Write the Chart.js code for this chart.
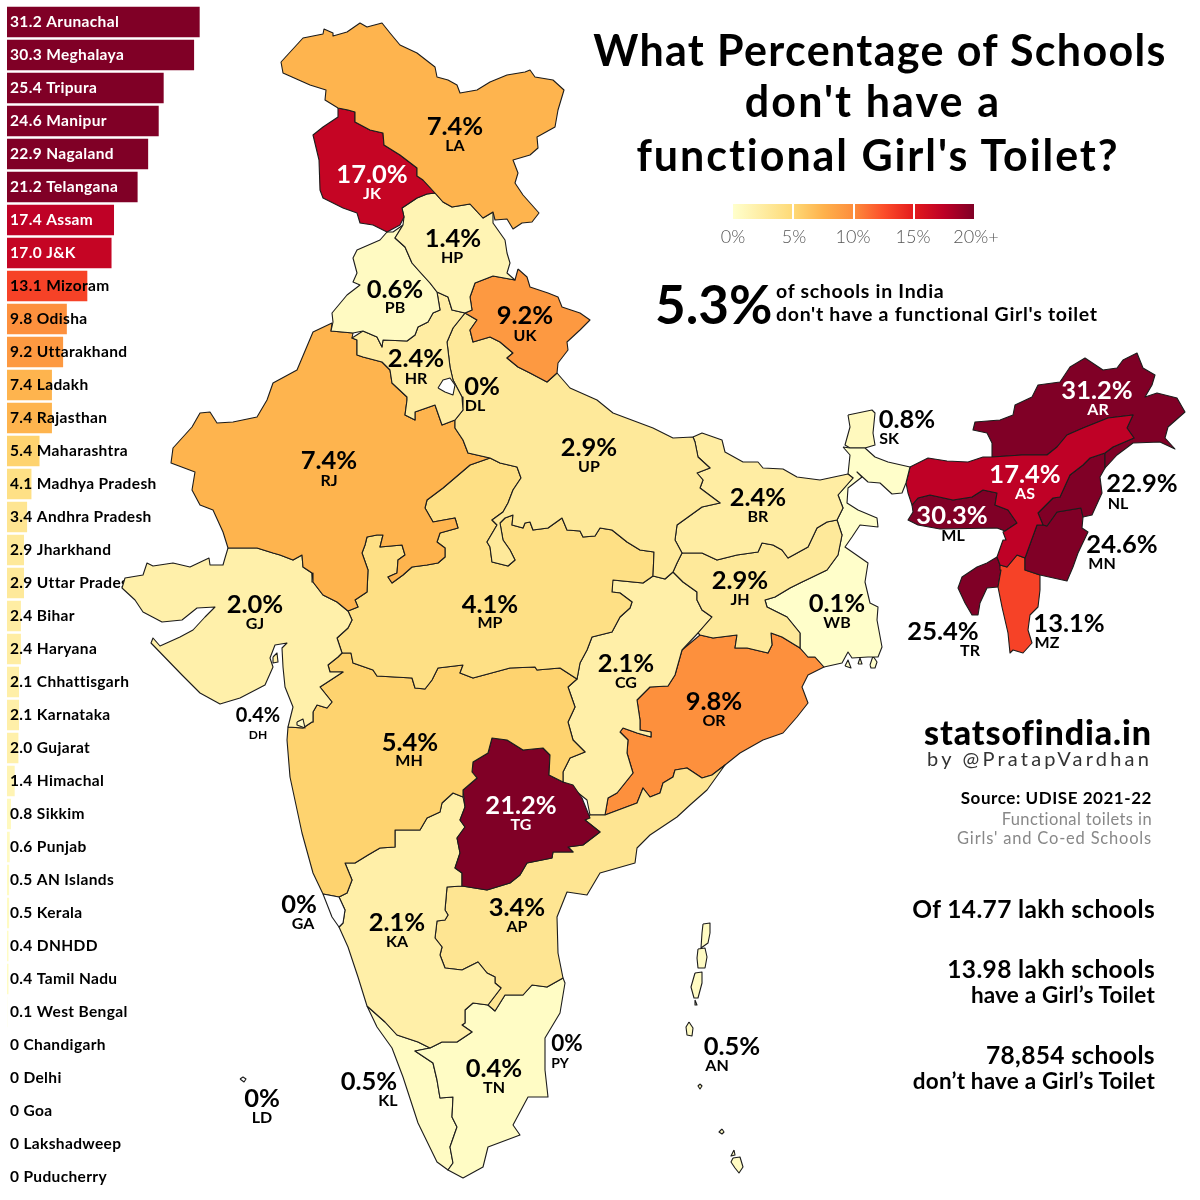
<!DOCTYPE html>
<html>
<head>
<meta charset="utf-8">
<title>Schools without a functional Girl's Toilet</title>
<script src="https://cdn.jsdelivr.net/npm/chart.js@4"></script>
<style>
body{margin:0;background:#fff;font-family:Lato,sans-serif;color:#000}
#page{position:relative;width:1200px;height:1200px;overflow:hidden}
canvas{position:absolute;left:0;top:0}
.t{position:absolute;white-space:nowrap;line-height:1}
.title{font-weight:700;font-size:43px;transform:translateX(-50%)}
.r{text-align:right;right:48px}
.stat{font-weight:700;font-size:24.5px;right:45px;letter-spacing:.35px}
.stat2{font-weight:700;font-size:22.5px;right:45px;letter-spacing:.2px}
.tick{font-weight:300;font-size:18px;color:#555;transform:translateX(-50%)}
.note{font-size:16.5px;color:#888;letter-spacing:.4px}
.sub{font-weight:700;font-size:19.5px;letter-spacing:.7px;left:776px}
#ramp{position:absolute;left:733px;top:204px;width:241px;height:15px;
background:linear-gradient(90deg,#ffffcc,#fed976 25%,#feb24c 37.5%,#fd8d3c 50%,#fc4e2a 62.5%,#e31a1c 75%,#bd0026 87.5%,#800026)}
.notch{position:absolute;top:0;width:1.5px;height:15px;background:#fff}
</style>
</head>
<body>
<div id="page">
<canvas id="barChart" width="300" height="1200"></canvas>
<canvas id="mapChart" width="1200" height="1200"></canvas>

<div class="t title" style="left:880px;top:28px;letter-spacing:1.35px">What Percentage of Schools</div>
<div class="t title" style="left:873px;top:79px;letter-spacing:2.1px">don't have a</div>
<div class="t title" style="left:878px;top:133px;letter-spacing:1.95px">functional Girl's Toilet?</div>

<div id="ramp">
<div class="notch" style="left:59px"></div>
<div class="notch" style="left:120px"></div>
<div class="notch" style="left:180px"></div>
</div>
<div class="t tick" style="left:733px;top:227px">0%</div>
<div class="t tick" style="left:794px;top:227px">5%</div>
<div class="t tick" style="left:853px;top:227px">10%</div>
<div class="t tick" style="left:913px;top:227px">15%</div>
<div class="t tick" style="left:976px;top:227px">20%+</div>

<div class="t" style="left:655px;top:277px;font-weight:700;font-size:53px">5.3%</div>
<div class="t sub" style="top:281px">of schools in India</div>
<div class="t sub" style="top:304px">don't have a functional Girl's toilet</div>

<div class="t r" style="top:715px;font-weight:900;font-size:34px;letter-spacing:.9px">statsofindia.in</div>
<div class="t r" style="top:748px;font-size:20px;letter-spacing:3.2px;color:#333">by @PratapVardhan</div>
<div class="t r" style="top:789px;font-weight:700;font-size:17px;letter-spacing:.55px">Source: UDISE 2021-22</div>
<div class="t r note" style="top:811px">Functional toilets in</div>
<div class="t r note" style="top:830px;letter-spacing:.8px">Girls' and Co-ed Schools</div>

<div class="t r stat" style="top:897px">Of 14.77 lakh schools</div>
<div class="t r stat" style="top:957px">13.98 lakh schools</div>
<div class="t r stat2" style="top:984px">have a Girl’s Toilet</div>
<div class="t r stat" style="top:1043px">78,854 schools</div>
<div class="t r stat2" style="top:1070px">don’t have a Girl’s Toilet</div>
</div>

<script>
/* ranking on the left */
const barLabels = ["31.2 Arunachal","30.3 Meghalaya","25.4 Tripura","24.6 Manipur","22.9 Nagaland","21.2 Telangana","17.4 Assam","17.0 J&K","13.1 Mizoram","9.8 Odisha","9.2 Uttarakhand","7.4 Ladakh","7.4 Rajasthan","5.4 Maharashtra","4.1 Madhya Pradesh","3.4 Andhra Pradesh","2.9 Jharkhand","2.9 Uttar Pradesh","2.4 Bihar","2.4 Haryana","2.1 Chhattisgarh","2.1 Karnataka","2.0 Gujarat","1.4 Himachal","0.8 Sikkim","0.6 Punjab","0.5 AN Islands","0.5 Kerala","0.4 DNHDD","0.4 Tamil Nadu","0.1 West Bengal","0 Chandigarh","0 Delhi","0 Goa","0 Lakshadweep","0 Puducherry"]
const barValues = [31.2,30.3,25.4,24.6,22.9,21.2,17.4,17.0,13.1,9.8,9.2,7.4,7.4,5.4,4.1,3.4,2.9,2.9,2.4,2.4,2.1,2.1,2.0,1.4,0.8,0.6,0.5,0.5,0.4,0.4,0.1,0,0,0,0,0]

/* colour ramp */
const rampStops = [0,5,7.5,10,12.5,15,17.5,20]
const rampColors = ["#ffffcc","#fed976","#feb24c","#fd8d3c","#fc4e2a","#e31a1c","#bd0026","#800026"]

/* outlines, in map units */
const DL = [[[438,388],[443,380],[450,378],[455,385],[453,395],[445,392]]]
const GA = [[[323,894],[339,897],[345,910],[343,923],[339,927],[332,917]]]
const LD = [[[240,1079],[243,1077],[246,1079],[244,1082]]]
const DH = [[[297,722],[303,719],[305,728],[297,725]]]
const LA = [[[281,62],[303,38],[323,34],[324,29],[333,33],[333,36],[347,32],[360,23],[367,27],[382,23],[390,33],[400,45],[417,53],[435,67],[437,77],[448,80],[457,85],[460,93],[477,90],[490,82],[507,75],[525,72],[530,70],[535,77],[553,80],[564,90],[558,110],[555,127],[537,137],[538,148],[530,155],[513,160],[518,173],[515,183],[523,195],[539,213],[532,222],[522,223],[513,229],[507,219],[495,220],[493,212],[483,218],[470,204],[452,207],[443,202],[435,193],[423,180],[417,176],[417,168],[400,155],[384,145],[383,133],[370,130],[355,122],[355,112],[348,110],[338,108],[325,100],[326,90],[310,85],[283,73]]]
const JK = [[[338,108],[348,110],[355,112],[355,122],[370,130],[383,133],[384,145],[400,155],[417,168],[417,176],[423,180],[435,193],[427,194],[417,198],[402,208],[404,217],[400,225],[387,232],[373,225],[360,223],[357,213],[343,208],[323,198],[320,190],[319,160],[313,135],[323,127],[338,117]]]
const HP = [[[435,193],[443,202],[452,207],[470,204],[483,218],[493,212],[493,223],[505,240],[507,253],[510,263],[507,273],[515,280],[493,276],[475,283],[470,297],[472,310],[465,313],[452,310],[448,297],[437,292],[430,283],[420,272],[412,263],[405,247],[395,238],[403,225],[404,217],[402,208],[417,198],[427,194]]]
const PB = [[[387,232],[380,240],[357,250],[353,258],[357,273],[353,282],[360,285],[347,295],[332,313],[333,322],[331,331],[353,333],[363,331],[377,337],[382,347],[383,340],[407,341],[415,335],[418,327],[428,322],[433,313],[440,310],[437,292],[430,283],[420,272],[412,263],[405,247],[395,238],[403,225],[393,232]]]
const HR = [[[437,292],[448,297],[452,310],[465,313],[453,328],[447,342],[450,367],[453,380],[462,397],[463,410],[455,420],[442,425],[435,405],[415,412],[415,420],[405,415],[407,400],[407,397],[392,383],[390,370],[382,362],[363,357],[357,355],[357,340],[352,338],[363,331],[377,337],[382,347],[383,340],[407,341],[415,335],[418,327],[428,322],[433,313],[440,310]]]
const UK = [[[518,269],[527,277],[530,287],[548,293],[558,297],[562,307],[580,313],[590,320],[580,330],[567,342],[568,350],[558,363],[557,373],[547,382],[530,373],[518,367],[507,358],[513,353],[500,342],[490,337],[473,342],[470,330],[477,320],[465,313],[472,310],[470,297],[475,283],[493,276],[515,280]]]
const UP = [[[465,313],[477,320],[470,330],[473,342],[490,337],[500,342],[513,353],[507,358],[518,367],[530,373],[547,382],[557,373],[570,388],[597,400],[613,413],[637,422],[653,428],[673,438],[693,437],[695,442],[698,457],[710,468],[697,473],[703,480],[700,488],[720,503],[702,507],[677,525],[675,540],[682,553],[677,563],[673,572],[665,579],[653,576],[654,552],[640,550],[627,542],[612,530],[600,528],[595,536],[583,537],[580,531],[567,530],[562,518],[548,528],[533,530],[530,522],[525,523],[523,528],[512,525],[513,515],[505,518],[500,523],[503,540],[510,550],[515,560],[508,566],[492,562],[490,547],[487,542],[497,525],[492,520],[503,512],[508,503],[513,490],[521,478],[517,467],[500,463],[490,458],[468,453],[463,440],[455,428],[455,420],[463,410],[462,397],[453,380],[450,367],[447,342],[453,328]]]
const RJ = [[[490,458],[468,453],[463,440],[455,428],[455,420],[442,425],[435,405],[415,412],[415,420],[405,415],[407,400],[407,397],[392,383],[390,370],[382,362],[363,357],[357,355],[357,340],[352,338],[353,333],[331,331],[332,323],[313,332],[297,370],[273,383],[267,400],[257,417],[233,422],[217,423],[210,412],[200,413],[192,427],[173,448],[171,463],[195,472],[192,490],[200,505],[213,510],[223,532],[228,548],[243,548],[257,548],[273,553],[280,555],[293,560],[302,555],[303,567],[312,573],[313,582],[323,595],[337,602],[348,611],[358,607],[355,600],[367,592],[368,570],[362,553],[365,545],[367,537],[377,535],[383,535],[380,547],[402,545],[405,555],[398,560],[397,573],[388,577],[392,583],[403,575],[412,567],[427,565],[438,563],[445,557],[445,548],[437,542],[440,533],[458,528],[455,518],[433,522],[425,508],[427,500],[443,488],[470,465]]]
const GJ = [[[228,548],[225,558],[223,565],[210,565],[209,558],[190,567],[173,563],[153,566],[147,563],[143,575],[125,578],[122,588],[135,600],[143,612],[162,622],[182,620],[197,608],[215,607],[205,617],[193,630],[180,637],[160,646],[153,638],[151,643],[182,675],[200,693],[220,704],[240,698],[265,685],[273,667],[270,658],[275,645],[287,643],[282,648],[283,667],[285,687],[293,707],[288,727],[303,728],[312,722],[313,712],[317,705],[327,708],[332,702],[320,687],[343,672],[330,672],[328,665],[338,657],[342,653],[337,638],[348,628],[352,620],[348,611],[337,602],[323,595],[313,582],[312,573],[303,567],[302,555],[293,560],[280,555],[273,553],[257,548],[243,548]],[[273,657],[277,653],[278,662],[273,663]]]
const MP = [[[490,458],[470,465],[443,488],[427,500],[425,508],[433,522],[455,518],[458,528],[440,533],[437,542],[445,548],[445,557],[438,563],[427,565],[412,567],[403,575],[392,583],[388,577],[397,573],[398,560],[405,555],[402,545],[380,547],[383,535],[377,535],[367,537],[365,545],[362,553],[368,570],[367,592],[355,600],[358,607],[348,611],[352,620],[348,628],[337,638],[342,653],[351,653],[353,663],[373,670],[377,676],[412,678],[415,688],[425,689],[432,680],[438,668],[463,665],[460,673],[473,678],[510,668],[535,667],[537,670],[560,668],[577,679],[580,663],[587,650],[592,637],[612,632],[620,617],[630,608],[632,602],[620,593],[612,592],[613,580],[643,583],[653,576],[654,552],[640,550],[627,542],[612,530],[600,528],[595,536],[583,537],[580,531],[567,530],[562,518],[548,528],[533,530],[530,522],[525,523],[523,528],[512,525],[513,515],[505,518],[500,523],[503,540],[510,550],[515,560],[508,566],[492,562],[490,547],[487,542],[497,525],[492,520],[503,512],[508,503],[513,490],[521,478],[517,467],[500,463]]]
const MH = [[[342,653],[351,653],[353,663],[373,670],[377,676],[412,678],[415,688],[425,689],[432,680],[438,668],[463,665],[460,673],[473,678],[510,668],[535,667],[537,670],[560,668],[577,679],[568,687],[575,707],[568,722],[573,740],[585,752],[570,758],[563,772],[563,782],[549,775],[550,755],[543,748],[523,750],[507,740],[492,738],[488,753],[473,762],[472,772],[477,778],[463,790],[463,797],[453,793],[442,803],[440,812],[427,818],[420,830],[395,830],[395,847],[380,848],[368,855],[355,863],[345,863],[352,880],[347,893],[339,897],[323,894],[313,873],[302,833],[290,777],[287,740],[288,727],[303,728],[312,722],[313,712],[317,705],[327,708],[332,702],[320,687],[343,672],[330,672],[328,665],[338,657]]]
const TG = [[[492,738],[507,740],[523,750],[543,748],[550,755],[549,775],[563,782],[573,785],[582,798],[590,818],[585,820],[600,832],[583,845],[568,847],[573,852],[567,852],[553,852],[552,858],[527,863],[520,875],[510,883],[487,890],[462,886],[462,873],[455,868],[460,853],[457,838],[465,827],[460,820],[465,807],[463,790],[477,778],[472,772],[473,762],[488,753]]]
const KA = [[[453,793],[463,797],[465,807],[460,820],[465,827],[457,838],[460,853],[455,868],[462,873],[462,886],[447,887],[445,910],[448,915],[445,920],[437,921],[435,938],[442,947],[440,955],[445,968],[462,970],[478,962],[487,973],[495,977],[495,983],[501,988],[488,1005],[473,1003],[465,1010],[465,1023],[462,1025],[472,1032],[457,1042],[442,1042],[430,1048],[418,1042],[397,1035],[385,1022],[367,1006],[358,977],[348,947],[339,927],[343,923],[345,910],[339,897],[347,893],[352,880],[345,863],[355,863],[368,855],[380,848],[395,847],[395,830],[420,830],[427,818],[440,812],[442,803]]]
const AP = [[[462,886],[487,890],[510,883],[520,875],[527,863],[552,858],[553,852],[567,852],[573,852],[568,847],[583,845],[600,832],[585,820],[590,815],[605,815],[637,803],[643,788],[650,797],[660,793],[663,783],[673,777],[675,770],[687,768],[702,778],[712,775],[725,765],[707,790],[690,805],[677,817],[650,835],[637,848],[635,863],[600,873],[587,895],[567,892],[557,917],[558,953],[563,978],[547,987],[532,985],[523,995],[505,995],[495,1011],[488,1005],[501,988],[495,983],[495,977],[487,973],[478,962],[462,970],[445,968],[440,955],[442,947],[435,938],[437,921],[445,920],[448,915],[445,910],[447,887]]]
const TN = [[[488,1005],[495,1011],[505,995],[523,995],[532,985],[547,987],[563,978],[565,983],[560,1013],[545,1038],[545,1070],[548,1097],[528,1097],[513,1125],[520,1135],[488,1147],[483,1167],[463,1178],[448,1170],[453,1163],[450,1147],[457,1127],[452,1117],[453,1097],[440,1098],[437,1080],[433,1063],[415,1051],[430,1048],[442,1042],[457,1042],[472,1032],[462,1025],[465,1023],[465,1010],[473,1003]]]
const KL = [[[367,1006],[385,1022],[397,1035],[418,1042],[430,1048],[415,1051],[433,1063],[437,1080],[440,1098],[453,1097],[452,1117],[457,1127],[450,1147],[453,1163],[448,1170],[437,1162],[418,1123],[403,1077],[392,1048],[377,1027]]]
const BR = [[[693,437],[702,433],[722,440],[725,452],[743,462],[758,462],[763,468],[783,469],[797,477],[820,480],[848,474],[853,478],[838,495],[843,508],[837,520],[827,522],[817,528],[808,547],[788,558],[782,550],[773,545],[762,543],[758,552],[737,555],[717,560],[702,553],[682,553],[675,540],[677,525],[702,507],[720,503],[700,488],[703,480],[697,473],[710,468],[698,457],[695,442]]]
const JH = [[[682,553],[702,553],[717,560],[737,555],[758,552],[762,543],[773,545],[782,550],[788,558],[808,547],[817,528],[827,522],[837,520],[842,535],[838,555],[827,570],[800,583],[790,588],[775,597],[765,600],[767,607],[787,617],[800,633],[800,648],[782,637],[771,633],[772,645],[768,653],[747,648],[735,648],[737,635],[713,638],[700,635],[698,633],[712,617],[702,610],[697,600],[697,592],[683,582],[673,572],[677,563]]]
const WB = [[[843,447],[850,455],[848,474],[853,478],[838,495],[843,508],[837,520],[842,535],[838,555],[827,570],[800,583],[790,588],[775,597],[765,600],[767,607],[787,617],[800,633],[800,648],[808,657],[815,657],[824,667],[842,663],[848,652],[852,658],[868,657],[878,657],[882,647],[877,620],[878,607],[870,603],[865,582],[868,563],[845,547],[852,537],[860,525],[878,527],[877,518],[858,510],[847,503],[848,488],[862,477],[857,472],[868,482],[880,483],[892,494],[902,493],[906,483],[910,467],[888,462],[875,457],[865,448],[850,448]],[[845,666],[848,660],[851,668]],[[858,664],[860,658],[862,664]],[[870,665],[873,656],[877,662],[875,668],[871,668]]]
const SK = [[[848,415],[872,410],[875,413],[873,433],[875,445],[865,448],[850,448],[845,445],[850,427]]]
const CG = [[[612,580],[643,583],[653,576],[665,579],[673,572],[683,582],[697,592],[697,600],[702,610],[712,617],[698,633],[682,650],[675,675],[668,686],[650,687],[637,700],[640,720],[640,730],[651,732],[651,737],[637,733],[623,728],[620,732],[628,740],[627,753],[633,773],[617,793],[608,798],[605,815],[590,815],[587,800],[577,792],[563,782],[563,772],[570,758],[585,752],[573,740],[568,722],[575,707],[568,687],[577,679],[580,663],[587,650],[592,637],[612,632],[620,617],[630,608],[632,602],[620,593],[612,592]]]
const OR = [[[605,815],[608,798],[617,793],[633,773],[627,753],[628,740],[620,732],[623,728],[637,733],[651,737],[651,732],[640,730],[640,720],[637,700],[650,687],[668,686],[675,675],[682,650],[700,635],[713,638],[737,635],[735,648],[747,648],[768,653],[772,645],[771,633],[782,637],[800,648],[808,657],[815,657],[824,667],[808,675],[802,687],[808,703],[797,717],[783,733],[763,740],[740,753],[725,765],[712,775],[702,778],[687,768],[675,770],[673,777],[663,783],[660,793],[650,797],[643,788],[637,803]]]
const AS = [[[910,467],[928,458],[947,461],[968,462],[983,457],[992,457],[1022,455],[1047,455],[1057,447],[1067,435],[1083,428],[1108,418],[1133,415],[1127,428],[1134,438],[1113,447],[1105,453],[1090,458],[1083,465],[1070,475],[1060,497],[1053,498],[1038,513],[1043,525],[1037,525],[1025,558],[1017,555],[1007,567],[1000,565],[997,557],[1003,540],[1006,540],[1003,532],[1005,531],[1017,523],[1008,510],[995,505],[997,493],[983,490],[972,497],[953,500],[930,495],[918,498],[912,505],[908,493],[906,483]]]
const ML = [[[912,505],[918,498],[930,495],[953,500],[972,497],[983,490],[997,493],[995,505],[1008,510],[1017,523],[1005,531],[997,528],[940,529],[918,525],[908,520],[913,512]]]
const AR = [[[992,457],[992,443],[987,433],[973,430],[975,422],[1000,420],[1013,415],[1015,405],[1032,397],[1038,385],[1060,382],[1070,367],[1085,358],[1103,370],[1117,368],[1123,360],[1137,353],[1143,368],[1155,375],[1152,385],[1145,397],[1157,393],[1177,398],[1185,412],[1168,427],[1165,438],[1175,449],[1160,442],[1133,443],[1117,455],[1105,468],[1105,453],[1113,447],[1134,438],[1127,428],[1133,415],[1108,418],[1083,428],[1067,435],[1057,447],[1047,455],[1022,455]]]
const NL = [[[1105,453],[1105,468],[1100,477],[1102,493],[1092,515],[1083,517],[1081,508],[1057,512],[1047,526],[1043,525],[1038,513],[1053,498],[1060,497],[1070,475],[1083,465],[1090,458]]]
const MN = [[[1047,526],[1057,512],[1081,508],[1083,517],[1082,528],[1088,532],[1078,553],[1073,567],[1067,581],[1040,575],[1025,570],[1025,558],[1037,525],[1043,525]]]
const MZ = [[[1000,565],[1007,567],[1017,555],[1025,558],[1025,570],[1040,575],[1040,590],[1038,607],[1030,615],[1028,630],[1032,643],[1023,653],[1013,650],[1010,653],[1008,633],[1002,607],[998,587],[1001,570]]]
const TR = [[[997,557],[1000,565],[1001,570],[998,587],[987,588],[980,603],[978,615],[972,615],[965,603],[958,588],[962,577],[977,567],[987,563]]]
const AN = [[[703,924],[710,923],[710,933],[708,943],[701,948],[702,933]],[[698,949],[705,948],[707,957],[705,968],[698,968],[697,958]],[[695,973],[702,972],[702,983],[698,998],[694,998],[691,987]],[[695,1000],[697,1005],[695,1005]],[[689,1022],[693,1028],[692,1036],[687,1035],[686,1027]],[[700,1084],[702,1086],[700,1089],[698,1086]],[[722,1129],[724,1132],[722,1134],[719,1132]],[[734,1150],[735,1155],[731,1156]],[[733,1158],[740,1157],[743,1167],[739,1173],[735,1168],[731,1162]]]

const stateCodes = ["DL","GA","LD","DH","LA","JK","HP","PB","HR","UK","UP","RJ","GJ","MP","MH","TG","KA","AP","TN","KL","BR","JH","WB","SK","CG","OR","AS","ML","AR","NL","MN","MZ","TR","AN","PY"]
const stateValues = [0,0,0,0.4,7.4,17.0,1.4,0.6,2.4,9.2,2.9,7.4,2.0,4.1,5.4,21.2,2.1,3.4,0.4,0.5,2.4,2.9,0.1,0.8,2.1,9.8,17.4,30.3,31.2,22.9,24.6,13.1,25.4,0.5,0]
const stateShapes = [DL,GA,LD,DH,LA,JK,HP,PB,HR,UK,UP,RJ,GJ,MP,MH,TG,KA,AP,TN,KL,BR,JH,WB,SK,CG,OR,AS,ML,AR,NL,MN,MZ,TR,AN,[]]

/* labels on the map */
const valueLabels = ["0%","0%","0%","0.4%","7.4%","17.0%","1.4%","0.6%","2.4%","9.2%","2.9%","7.4%","2.0%","4.1%","5.4%","21.2%","2.1%","3.4%","0.4%","0.5%","2.4%","2.9%","0.1%","0.8%","2.1%","9.8%","17.4%","30.3%","31.2%","22.9%","24.6%","13.1%","25.4%","0.5%","0%"]
const valueAnchors = [[482,387],[299,905],[262,1099],[258,716],[455,127],[372,175],[453,239],[395,290],[416,359],[525,316],[589,448],[329,461],[255,605],[490,605],[410,743],[521,806],[397,923],[517,908],[494,1069],[369,1082],[758,498],[740,581],[837,604],[907,420],[626,664],[714,702],[1025,475],[952,516],[1097,391],[1142,484],[1122,545],[1069,624],[943,632],[732,1047],[567,1044]]
const codeAnchors = [[475,406],[303,924],[262,1118],[258,735],[455,146],[372,194],[452,258],[395,308],[416,379],[525,336],[589,467],[329,481],[255,624],[490,623],[409,761],[521,825],[397,942],[517,927],[494,1088],[388,1101],[758,517],[740,600],[837,623],[889,439],[626,683],[714,721],[1025,494],[953,536],[1098,410],[1118,504],[1102,564],[1047,643],[970,651],[717,1066],[560,1063]]
const whiteValues = ["JK","TG","AS","ML","AR"]
const whiteCodes = ["JK","TG","AS","AR"]
const smallLabels = ["DH","PY"]

function hex(c){
return [1,3,5].map(i=>parseInt(c.substr(i,2),16))
}

function colorFor(v){
if(v>=20) return rampColors[7]
let i = 0
while(rampStops[i+1]<=v) i++
const t = (v-rampStops[i])/(rampStops[i+1]-rampStops[i])
const a = hex(rampColors[i])
const b = hex(rampColors[i+1])
return "rgb("+a.map((x,k)=>Math.round(x+(b[k]-x)*t)).join(",")+")"
}

function drawBars(){

new Chart(document.getElementById("barChart"),{
type:"bar",
data:{
labels:barLabels,
datasets:[{
data:barValues,
backgroundColor:barValues.map(colorFor),
borderColor:"rgba(255,255,255,0.35)",
borderWidth:1,
barPercentage:0.98,
categoryPercentage:1
}]
},
options:{
indexAxis:"y",
responsive:false,
animation:false,
layout:{padding:{left:7,right:0,top:5.5,bottom:6.5}},
plugins:{legend:{display:false},tooltip:{enabled:false}},
scales:{
x:{display:false,min:0,max:47.2},
y:{
grid:{display:false},
border:{display:false},
afterFit(scale){
scale.width = 0
scale.paddingTop = 0
scale.paddingBottom = 0
},
ticks:{
z:1,
mirror:true,
padding:3,
autoSkip:false,
font:{family:"Lato",weight:"700",size:15.5},
color:c=>barValues[c.index]>=17?"#fff":"#000"
}
}
}
},
plugins:[{
id:"spacing",
beforeDraw(chart){chart.ctx.letterSpacing="0.35px"}
}]
})

}

function drawMap(){

const datasets = []

stateShapes.forEach((parts,i)=>{
parts.forEach(part=>{
datasets.push({
data:part.concat([part[0]]).map(p=>({x:p[0],y:p[1]})),
showLine:true,
fill:"shape",
backgroundColor:stateValues[i]===0?"#fff":colorFor(stateValues[i]),
borderColor:"#1c1c1c",
borderWidth:1.1,
borderJoinStyle:"round",
pointRadius:0,
tension:0,
clip:false
})
})
})

new Chart(document.getElementById("mapChart"),{
type:"scatter",
data:{datasets:datasets},
options:{
responsive:false,
animation:false,
layout:{padding:0},
plugins:{legend:{display:false},tooltip:{enabled:false}},
scales:{
x:{display:false,min:0,max:1200},
y:{display:false,min:0,max:1200,reverse:true}
}
},
plugins:[{
id:"mapLabels",
afterDatasetsDraw(chart){
const ctx = chart.ctx
const sx = chart.scales.x
const sy = chart.scales.y
ctx.save()
ctx.textAlign = "center"
ctx.textBaseline = "middle"
stateCodes.forEach((code,i)=>{
const small = smallLabels.includes(code)
ctx.font = "700 "+(code==="DH"?20:small?22.5:25.5)+"px Lato"
ctx.fillStyle = whiteValues.includes(code)?"#fff":"#000"
ctx.fillText(valueLabels[i],sx.getPixelForValue(valueAnchors[i][0]),sy.getPixelForValue(valueAnchors[i][1]))
ctx.font = "700 "+(code==="DH"?12:small?14:16)+"px Lato"
ctx.fillStyle = whiteCodes.includes(code)?"#fff":"#000"
ctx.fillText(code,sx.getPixelForValue(codeAnchors[i][0]),sy.getPixelForValue(codeAnchors[i][1]))
})
ctx.restore()
}
}]
})

}

drawBars()
drawMap()
</script>
</body>
</html>
